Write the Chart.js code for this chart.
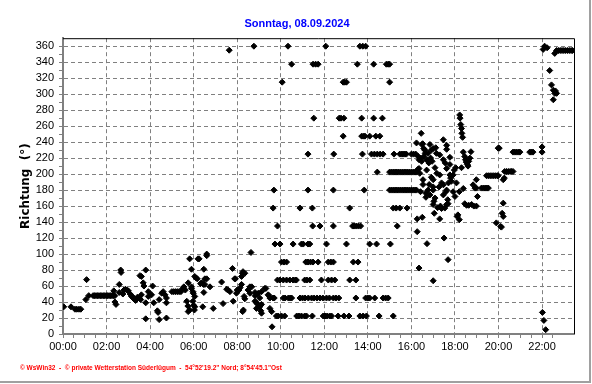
<!DOCTYPE html>
<html><head><meta charset="utf-8">
<script src="https://cdn.jsdelivr.net/npm/chart.js@4/dist/chart.umd.min.js"></script>
<style>html,body{margin:0;padding:0;background:#fff;}canvas{display:block;}</style>
</head><body>
<canvas id="c" width="592" height="384" style="width:592px;height:384px"></canvas>
<script>
const titleText = 'Sonntag, 08.09.2024';
const yAxisTitle = 'Richtung  (°)';
const footerText = '\u00A9 WsWin32  -  \u00A9 private Wetterstation Süderlügum  -  54°52\'19.2" Nord; 8°54\'45.1"Ost';
const xTickLabels = ['00:00','02:00','04:00','06:00','08:00','10:00','12:00','14:00','16:00','18:00','20:00','22:00'];
const yTickLabels = ['0','20','40','60','80','100','120','140','160','180','200','220','240','260','280','300','320','340','360'];

// [minutes since midnight, direction in degrees]
const night = [[2,34],[22,34],[33,31],[38,31],[44,31],[49,31],[63,43],[65,68],[71,48],
[83,48],[87,48],[91,48],[95,48],[99,48],[103,48],[107,48],[111,48],[115,48],[119,48],[123,48],[127,48],[131,48],[135,48],[139,48],[143,48],
[140,54],[143,40],[146,37],[155,62],[155,52],[159,80],[160,77],[165,50],[168,55],[172,56],[176,55],[180,54],[185,50],[189,47],[191,47],[193,45],[196,44],[198,43],[200,42],[205,46],[210,45],[212,73],[214,43],[216,72],[216,49],[221,64],[223,60],[228,80],[228,39],[228,19],[235,53],[235,47],[244,49],[247,60],[250,39],[260,29],[262,27],[265,43],[265,18],[272,51],[276,53],[281,49],[285,45],[285,39],[285,20],
[300,53],[305,53],[310,53],[315,53],[320,53],[325,53],
[330,57],[333,59],[337,55],[341,41],[344,35],[345,28],[345,64],[349,30],[349,94],[354,59],[354,81],[354,57],[358,53],[358,41],[359,51],[360,36],[362,30]];

const morning = [[363,47],[363,34],[363,72],[367,70],[370,69],[372,94],[375,94],[379,63],[382,64],[385,34],[387,62],[388,81],[388,52],[391,62],[391,69],[396,100],[396,98],[396,69],[405,59],[414,32],[437,65],[441,38],[451,56],[455,55],[458,355],[460,53],[467,82],[469,41],[473,69],[475,69],[478,51],[480,55],[485,55],[488,58],[492,62],[492,72],[494,76],[496,78],[495,28],[497,30],[499,47],[501,44],[501,76],[510,55],[515,51],[515,59],[518,102],[520,59],[526,360],[529,48],[529,41],[529,52],[533,39],[533,32],[535,50],[537,37],[538,51],[542,45],[542,34],[545,29],[547,26],[547,53],[547,37],[556,57],[559,57],[565,49],[568,48],[570,45],[570,32],[575,28],[576,9]];

const midday = [[579,157.5],[579,45],[581,180],[582,45],[584,112.5],[588,22.5],[591,135],[591,67.5],[593,22.5],[598,112.5],[598,67.5],[602,90],[602,22.5],[604,315],[607,45],[607,67.5],[609,90],[611,22.5],[612,45],[616,90],[616,67.5],[620,360],[621,45],[625,67.5],[626,45],[630,337.5],[630,45],[634,112.5],[634,67.5],[640,67.5],[643,67.5],[644,22.5],[650,22.5],[653,157.5],[653,45],[657,112.5],[657,22.5],[660,45],[662,112.5],[666,67.5],[666,22.5],[667,45],[669,90],[671,22.5],[672,67.5],[675,225],[675,180],[675,90],[675,112.5],[676,45],[680,67.5],[680,112.5],[682,90],[685,45],[687,157.5],[687,22.5],[688,135],[689,337.5],[689,90],[691,270],[692,45],[696,337.5],[700,45],[703,337.5],[703,90],[708,135],[708,45],[712,67.5],[716,45],[717,22.5],[722,22.5],[724,360],[726,112.5],[726,45],[728,22.5],[731,90],[731,67.5],[734,45],[735,22.5],[738,90],[740,67.5],[740,22.5],[745,90],[745,180],[745,135],[745,45],[746,225],[749,67.5],[752,45],[758,22.5],[760,45],[761,270],[766,270],[772,315],[772,247.5],[774,270],[774,22.5],[776,315],[781,315],[781,112.5],[788,22.5],[790,157.5],[790,67.5],[798,135],[800,90],[802,135],[807,67.5],[807,45],[808,135],[811,337.5],[813,90],[814,135],[818,360],[818,22.5],[820,135],[823,270],[823,247.5],[825,225],[826,360],[827,22.5],[828,247.5],[830,180],[832,247.5],[834,360],[834,45],[836,22.5],[840,45],[845,247.5],[845,112.5],[845,45],[850,225],[856,337.5],[856,270],[858,225],[859,45],[862,247.5],[864,112.5],[866,202.5],[866,225],[871,22.5],[873,247.5],[874,225],[880,270],[882,225],[882,45],[889,45],[891,337.5],[896,45],[896,337.5],[900,337.5],[900,315],[902,112.5],[910,22.5],[910,157.5],[912,225],[918,157.5],[921,135],[928,157.5],[928,225],[933,225],[937,225],[942,225],[946,225],[948,157.5],[960,225],[966,225],[972,225],
[900,202.5],[905,202.5],[910,202.5],[915,202.5],[920,202.5],[925,202.5],[930,202.5],[935,202.5],[940,202.5],[945,202.5],[950,202.5],[955,202.5],[960,202.5],[965,202.5],[970,202.5],[974,202.5],
[900,180],[905,180],[910,180],[915,180],[920,180],[925,180],[930,180],[935,180],[940,180],[945,180],[950,180],[955,180],[960,180],[965,180],[970,180],[974,180]];

const afternoon = [[974,239],[976,144],[976,128],[978,206],[979,222],[981,218],[981,207],[981,82.5],[983,201],[985,220],[985,178],[987,251],[988,216],[989,237],[990,146],[991,238],[992,193],[992,187],[994,232],[994,222],[997,230],[998,226],[1000,176],[1000,171],[1002,205],[1002,218],[1003,113],[1006,226],[1006,180],[1008,214],[1009,187],[1011,237],[1011,174],[1013,220],[1015,230],[1015,196],[1017,216],[1020,232],[1020,193],[1020,184],[1020,180],[1020,162],[1020,66.6],[1022,166],[1023,151],[1025,208],[1025,170],[1027,233],[1029,226],[1030,201],[1032,158],[1036,184],[1038,224],[1038,199],[1038,144],[1040,160],[1043,189],[1043,157],[1048,243],[1048,218],[1048,186.6],[1048,174],[1050,120],[1052,157.5],[1053,214],[1055,178],[1057,236],[1057,231],[1057,180],[1057,162],[1057,207],[1060,168],[1061,93],[1061,163],[1062,189],[1066,221],[1066,212],[1066,199],[1068,195],[1070,191],[1075,178],[1075,199],[1078,205],[1080,172],[1082,208],[1084,189],[1086,147],[1088,149],[1092,143],[1092,178],[1093,274],[1094,270],[1096,262],[1098,257],[1099,251],[1101,246],[1098,208],[1103,227.5],[1103,182],[1107,222],[1107,163],[1109,218],[1111,215],[1112,161],[1114,212],[1116,210],[1118,216],[1118,161],[1121,220],[1124,228],[1126,162],[1130,186.6],[1132,160],[1135,182.5],[1139,160],[1139,193],[1139,182.5],[1142,172],[1153,182.5],[1158,182.5],[1163,182.5],[1167,198],[1168,182.5],[1172,182.5],[1172,198],[1177,198],[1182,198],[1187,198],[1192,198],[1194,139],[1197,198],[1199,198]];

const evening = [[1199,232.5],[1202,232.5],[1206,134.6],[1208,133.7],[1210,151],[1213,147],[1213,163.7],[1213,193],[1216,195],[1217,203.3],[1222,203.3],[1227,203.3],[1232,203.3],[1236,203.3],[1240,203.3],[1240,227.5],[1245,227.5],[1250,227.5],[1255,227.5],[1259,227.5],[1286,227.5],[1290,227.5],[1295,227.5],[1320,234],[1320,227.5],[1321,27],[1323,356],[1325,17],[1327,360],[1330,5.4],[1334,358],[1341,329.6],[1346,311.6],[1351,305],[1351,293],[1355,301],[1357,304],[1360,301],[1355,351],[1360,354.6],[1365,354.6],[1370,354.6],[1375,354.6],[1380,354.6],[1385,354.6],[1390,354.6],[1395,354.6],[1400,354.6],[1404,354.6]];

const xMaxMinutes = 1408;
const yMax = 370;

const points = [].concat(night, morning, midday, afternoon, evening).map(p => ({x: p[0] / 60, y: p[1]}));

const gray = '#808080';
const frame = {
  id: 'frame',
  afterDatasetsDraw(chart) {
    const {ctx, chartArea: a} = chart;
    ctx.save();
    ctx.strokeStyle = '#000';
    ctx.lineWidth = 1;
    ctx.beginPath();
    ctx.moveTo(a.left, a.top + 0.5);
    ctx.lineTo(a.right + 0.5, a.top + 0.5);
    ctx.lineTo(a.right + 0.5, a.bottom);
    ctx.stroke();
    ctx.strokeStyle = '#a0a0a0';
    ctx.lineWidth = 2;
    ctx.beginPath();
    ctx.moveTo(590, 0);
    ctx.lineTo(590, 382);
    ctx.lineTo(0, 382);
    ctx.stroke();
    ctx.restore();
  }
};

new Chart(document.getElementById('c'), {
  type: 'scatter',
  data: {datasets: [{
    data: points,
    pointStyle: 'rectRot',
    radius: 3,
    hoverRadius: 3,
    backgroundColor: '#000',
    borderColor: '#000',
    borderWidth: 1,
    showLine: false
  }]},
  options: {
    responsive: false,
    animation: false,
    devicePixelRatio: 1,
    layout: {padding: {left: 20, right: 18, top: 0, bottom: 0}},
    plugins: {
      legend: {display: false},
      tooltip: {enabled: false},
      title: {display: true, text: titleText, color: '#0000ff',
        font: {family: 'Liberation Sans', size: 11, weight: 'bold'}, padding: {top: 17, bottom: 8}},
      subtitle: {display: true, text: footerText, position: 'bottom', align: 'start', color: '#ff0000',
        font: {family: 'Liberation Sans', size: 6.5, weight: 'bold'}, padding: {top: 0, bottom: 12}}
    },
    scales: {
      x: {
        type: 'linear', min: 0, max: xMaxMinutes / 60,
        afterBuildTicks: s => { s.ticks = s.ticks.filter(t => Math.abs(t.value * 2 - Math.round(t.value * 2)) < 1e-6); },
        afterFit: s => { s.height = 384 - 334 - 19.8; },
        ticks: {stepSize: 0.5, autoSkip: false, maxRotation: 0, padding: 2, color: '#000',
          font: {family: 'Liberation Sans', size: 11},
          callback: v => (Math.abs(v % 2) < 1e-6 ? xTickLabels[Math.round(v / 2)] : '')},
        grid: {color: c => (c.tick && Math.abs(c.tick.value % 2) < 1e-6 ? gray : 'rgba(0,0,0,0)'),
          tickColor: gray, tickLength: 4, lineWidth: 1},
        border: {color: gray, width: 2, dash: [4, 3]}
      },
      y: {
        type: 'linear', min: 0, max: yMax,
        afterBuildTicks: s => { s.ticks = s.ticks.filter(t => t.value <= 360 && t.value % 10 === 0); },
        afterFit: s => { s.width = 43; },
        ticks: {stepSize: 10, autoSkip: false, padding: 5, color: '#000',
          font: {family: 'Liberation Sans', size: 11},
          callback: v => (v % 20 === 0 ? yTickLabels[v / 20] : '')},
        grid: {color: c => (c.tick && c.tick.value % 20 === 0 ? gray : 'rgba(0,0,0,0)'),
          tickColor: gray, tickLength: 4, lineWidth: 1},
        border: {color: gray, width: 2, dash: [4, 3]},
        title: {display: true, text: yAxisTitle, color: '#000',
          font: {family: 'DejaVu Sans', size: 12, weight: 'bold', lineHeight: 1}, padding: {top: 0, bottom: 0}}
      }
    }
  },
  plugins: [frame]
});
</script>
</body></html>
